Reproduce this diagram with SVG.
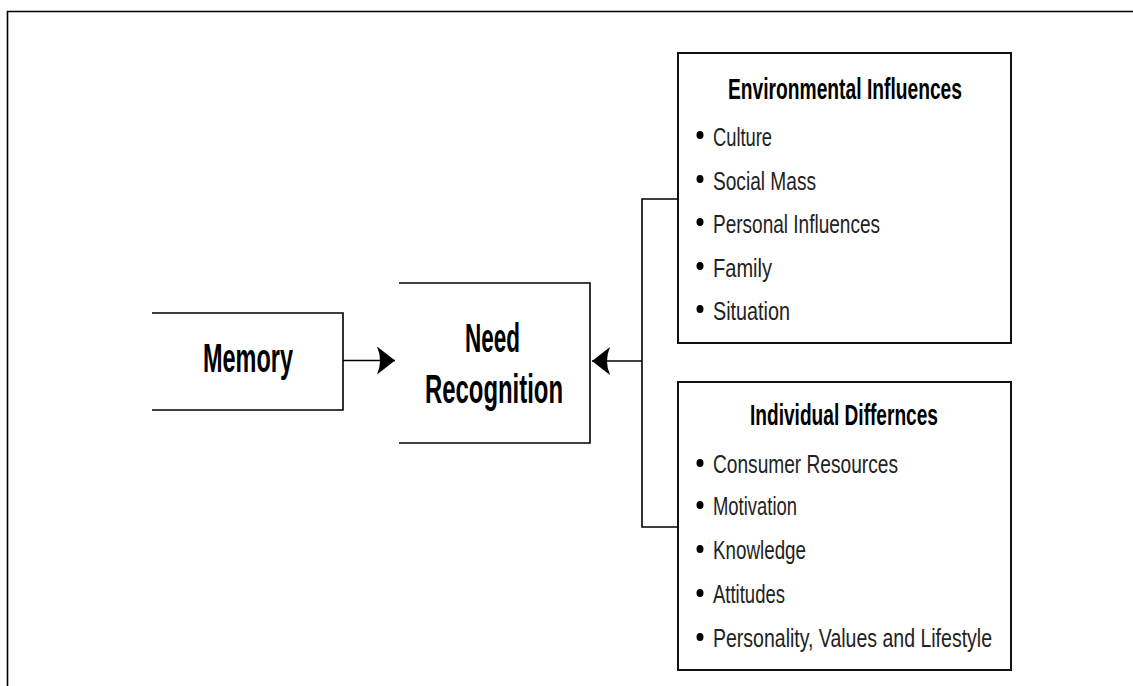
<svg xmlns="http://www.w3.org/2000/svg" width="1133" height="686" viewBox="0 0 1133 686">
<style>
.ln{fill:none;stroke:#000;stroke-width:1.6}
.bx{fill:none;stroke:#111;stroke-width:2}
.big{font-family:"Liberation Sans Narrow","Liberation Sans",Arial,sans-serif;font-weight:bold;font-size:41px;fill:#000}
.ttl{font-family:"Liberation Sans Narrow","Liberation Sans",Arial,sans-serif;font-weight:bold;font-size:29px;fill:#000}
.itm{font-family:"Liberation Sans Narrow","Liberation Sans",Arial,sans-serif;font-size:26px;fill:#222}
.bul{fill:#000}
</style>
<defs>
<marker id="ah" markerUnits="userSpaceOnUse" viewBox="0 0 18 30" refX="18" refY="15" markerWidth="18" markerHeight="30" orient="auto">
<path d="M18,15 L0,1 Q6,15 0,29 Z" fill="#000"/>
</marker>
</defs>
<rect width="1133" height="686" fill="#fff"/>
<g id="frame">
<path class="ln" d="M7.5,686 V11.5 H1133"/>
</g>
<g id="memory">
<path class="ln" d="M152,313 H343 V410 H152"/>
<text class="big" x="203" y="372" textLength="90" lengthAdjust="spacingAndGlyphs">Memory</text>
</g>
<g id="need-recognition">
<path class="ln" d="M399,283 H590 V443 H399"/>
<text class="big" x="465" y="352" textLength="55" lengthAdjust="spacingAndGlyphs">Need</text>
<text class="big" x="425" y="403" textLength="138" lengthAdjust="spacingAndGlyphs">Recognition</text>
</g>
<g id="environmental-influences">
<rect class="bx" x="678" y="53" width="333" height="290"/>
<text class="ttl" x="728" y="99" textLength="234" lengthAdjust="spacingAndGlyphs">Environmental Influences</text>
<ellipse class="bul" cx="700" cy="135" rx="3.5" ry="4"/>
<text class="itm" x="713" y="146" textLength="59" lengthAdjust="spacingAndGlyphs">Culture</text>
<ellipse class="bul" cx="700" cy="179" rx="3.5" ry="4"/>
<text class="itm" x="713" y="190" textLength="103" lengthAdjust="spacingAndGlyphs">Social Mass</text>
<ellipse class="bul" cx="700" cy="222" rx="3.5" ry="4"/>
<text class="itm" x="713" y="233" textLength="167" lengthAdjust="spacingAndGlyphs">Personal Influences</text>
<ellipse class="bul" cx="700" cy="266" rx="3.5" ry="4"/>
<text class="itm" x="713" y="277" textLength="59" lengthAdjust="spacingAndGlyphs">Family</text>
<ellipse class="bul" cx="700" cy="309" rx="3.5" ry="4"/>
<text class="itm" x="713" y="320" textLength="77" lengthAdjust="spacingAndGlyphs">Situation</text>
</g>
<g id="individual-differences">
<rect class="bx" x="678" y="382" width="333" height="288"/>
<text class="ttl" x="750" y="425" textLength="188" lengthAdjust="spacingAndGlyphs">Individual Differnces</text>
<ellipse class="bul" cx="700" cy="463" rx="3.5" ry="4"/>
<text class="itm" x="713" y="473" textLength="185" lengthAdjust="spacingAndGlyphs">Consumer Resources</text>
<ellipse class="bul" cx="700" cy="505" rx="3.5" ry="4"/>
<text class="itm" x="713" y="515" textLength="84" lengthAdjust="spacingAndGlyphs">Motivation</text>
<ellipse class="bul" cx="700" cy="549" rx="3.5" ry="4"/>
<text class="itm" x="713" y="559" textLength="93" lengthAdjust="spacingAndGlyphs">Knowledge</text>
<ellipse class="bul" cx="700" cy="593" rx="3.5" ry="4"/>
<text class="itm" x="713" y="603" textLength="72" lengthAdjust="spacingAndGlyphs">Attitudes</text>
<ellipse class="bul" cx="700" cy="637" rx="3.5" ry="4"/>
<text class="itm" x="713" y="647" textLength="279" lengthAdjust="spacingAndGlyphs">Personality, Values and Lifestyle</text>
</g>
<g id="connectors">
<path class="ln" d="M343,360.5 H395" marker-end="url(#ah)"/>
<path class="ln" d="M678,199 H642 V527 H678"/>
<path class="ln" d="M642,361 H592" marker-end="url(#ah)"/>
</g>
</svg>
